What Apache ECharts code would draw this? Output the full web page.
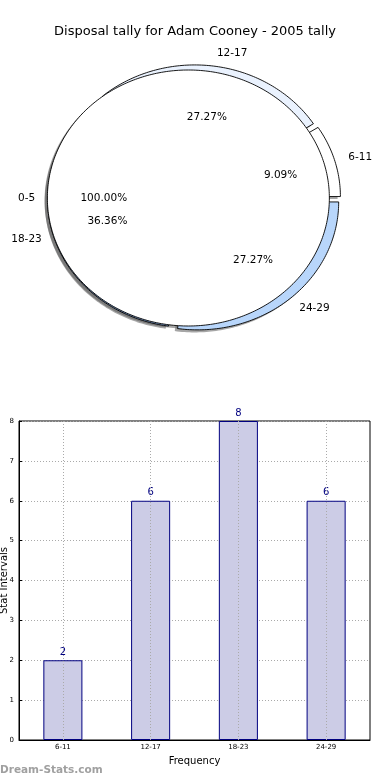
<!DOCTYPE html>
<html><head><meta charset="utf-8">
<script src="https://cdn.jsdelivr.net/npm/echarts@6/dist/echarts.min.js"></script>
<style>html,body{margin:0;padding:0;background:#fff}#c{width:390px;height:780px}</style>
</head><body><div id="c"></div>
<script>
const titleText = 'Disposal tally for Adam Cooney - 2005 tally';
const pieCategories = ['0-5', '6-11', '12-17', '18-23', '24-29'];
const pieShares = [100.00, 9.09, 27.27, 36.36, 27.27];
const pieColors = ['#ffffff', '#ffffff', '#eaf2fe', '#7d9fd0', '#b8d6fb'];
const barCategories = ['6-11', '12-17', '18-23', '24-29'];
const barValues = [2, 6, 8, 6];
const yTickMin = 0, yTickMax = 8, yTickStep = 1;
const watermark = 'Dream-Stats.com';

const FONT = 'DejaVu Sans';
// pie layout (pixels)
const cx = 194, cy = 198, rx = 141, ry = 128, explode = 0.04;
const shX = -0.02 * rx, shY = 0.02 * ry;

const starts = [];
let acc = 0;
pieShares.forEach(v => { starts.push((acc * 3.6) % 360); acc += v; });

function renderPie(params, api) {
  const i = params.dataIndex;
  const share = api.value(0);
  const a0 = starts[i], a1 = a0 + share * 3.6;
  const mid = (a0 + a1) / 2 * Math.PI / 180;
  const ox = cx + explode * rx * Math.cos(mid), oy = cy - explode * ry * Math.sin(mid);
  const full = share >= 99.999;
  const pts = [];
  if (!full) pts.push([ox, oy]);
  const n = Math.max(8, Math.ceil(a1 - a0));
  for (let k = 0; k <= n; k++) {
    const a = (a0 + (a1 - a0) * k / n) * Math.PI / 180;
    pts.push([ox + rx * Math.cos(a), oy - ry * Math.sin(a)]);
  }
  const spts = pts.map(p => [p[0] + shX, p[1] + shY]);
  const lx = ox + 1.1 * rx * Math.cos(mid), ly = oy - 1.1 * ry * Math.sin(mid);
  const px = ox + 0.6 * rx * Math.cos(mid), py = oy - 0.6 * ry * Math.sin(mid);
  return {
    type: 'group', children: [
      { type: 'polygon', z2: 1, shape: { points: spts }, style: { fill: 'rgba(77,77,77,0.5)' } },
      { type: 'polygon', z2: full ? 20 : 10, shape: { points: pts }, style: { fill: pieColors[i], stroke: '#000', lineWidth: 0.9 } },
      { type: 'text', z2: 30, style: { text: pieCategories[i], x: lx + (Math.cos(mid) > 0 ? 0 : 2), y: ly, align: Math.cos(mid) > 0 ? 'left' : 'right', verticalAlign: 'middle', font: '10.5px "' + FONT + '"', fill: '#000' } },
      { type: 'text', z2: 30, style: { text: share.toFixed(2) + '%', x: px, y: py, align: 'center', verticalAlign: 'middle', font: '10.5px "' + FONT + '"', fill: '#000' } }
    ]
  };
}

const chart = echarts.init(document.getElementById('c'), null, { renderer: 'canvas' });
chart.setOption({
  animation: false,
  backgroundColor: '#fff',
  textStyle: { fontFamily: FONT },
  title: { text: titleText, left: 'center', top: 20, textStyle: { fontSize: 13, fontWeight: 'normal', fontFamily: FONT, color: '#000' } },
  grid: { left: 19, right: 20, top: 421, bottom: 40, show: true, borderColor: '#000', borderWidth: 1, containLabel: false, outerBoundsMode: 'none' },
  xAxis: {
    type: 'category', data: barCategories,
    axisLine: { lineStyle: { color: '#000', width: 1 } },
    axisTick: { inside: true, alignWithLabel: true, length: 3, lineStyle: { color: '#000' } },
    axisLabel: { fontSize: 7, color: '#000', margin: 4, fontFamily: FONT },
    splitLine: { show: false },
    name: 'Frequency', nameLocation: 'middle', nameGap: 16, nameMoveOverlap: false,
    nameTextStyle: { fontSize: 10, color: '#000', fontFamily: FONT }
  },
  yAxis: {
    type: 'value', min: yTickMin, max: yTickMax, interval: yTickStep,
    axisLine: { show: true, lineStyle: { color: '#000', width: 1 } },
    axisTick: { show: true, inside: true, length: 3, lineStyle: { color: '#000' } },
    axisLabel: { fontSize: 7, color: '#000', margin: 5, fontFamily: FONT },
    splitLine: { show: true, lineStyle: { type: [1, 2], color: '#aaa', width: 1 } },
    name: 'Stat Intervals', nameLocation: 'middle', nameGap: 10, nameRotate: 90, nameMoveOverlap: false,
    nameTextStyle: { fontSize: 10, color: '#000', fontFamily: FONT }
  },
  graphic: [
    { type: 'text', left: 0, top: 765, style: { text: watermark, fill: '#a0a0a0', font: 'bold 10.5px "' + FONT + '"' } }
  ],
  series: [
    {
      type: 'custom', coordinateSystem: 'none', renderItem: renderPie,
      data: pieShares.map((v, i) => ({ name: pieCategories[i], value: [v, i] })),
      silent: true
    },
    {
      type: 'bar', data: barValues, barWidth: '44.5%',
      itemStyle: { color: 'rgb(204,204,230)', borderColor: '#000080', borderWidth: 1 },
      label: { show: true, position: 'top', distance: 3, color: '#000080', fontSize: 10, fontFamily: FONT },
      markLine: {
        silent: true, symbol: 'none', label: { show: false },
        lineStyle: { type: [1, 2], color: '#aaa', width: 1 },
        data: barCategories.map(c => ({ xAxis: c }))
      }
    }
  ]
});
</script>
</body></html>
